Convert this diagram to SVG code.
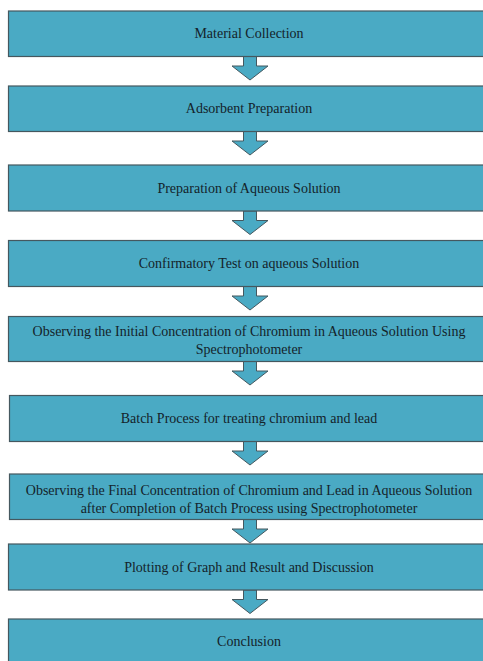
<svg xmlns="http://www.w3.org/2000/svg" width="483" height="661" viewBox="0 0 483 661">
<style>
.box{fill:#4aaac4;stroke:#45585f;stroke-width:1.2}
.arr{fill:#4aaac4;stroke:#45585f;stroke-width:1}
text{font-family:"Liberation Serif","Times New Roman",serif;font-size:14px;fill:#14232a;text-anchor:middle}
</style>
<defs>
<path id="arrow" d="M-6.5,0 L6.5,0 L6.5,9.5 L18,9.5 L0,23.5 L-18,9.5 L-6.5,9.5 Z"/>
</defs>
<rect width="483" height="661" fill="#ffffff"/>
<g id="connectors">
<use href="#arrow" class="arr" x="250" y="56.5"/>
<use href="#arrow" class="arr" x="250" y="131.5"/>
<use href="#arrow" class="arr" x="250" y="211"/>
<use href="#arrow" class="arr" x="250" y="286.5"/>
<use href="#arrow" class="arr" x="250" y="361.5"/>
<use href="#arrow" class="arr" x="250" y="441.5"/>
<use href="#arrow" class="arr" x="250" y="519.5"/>
<use href="#arrow" class="arr" x="250" y="590"/>
</g>
<g id="n1"><rect class="box" x="8.5" y="11" width="480" height="45.5"/><text x="249" y="38">Material Collection</text></g>
<g id="n2"><rect class="box" x="8.5" y="86" width="480" height="45.5"/><text x="249" y="112.5">Adsorbent Preparation</text></g>
<g id="n3"><rect class="box" x="8.5" y="165" width="480" height="46"/><text x="249" y="192.5">Preparation of Aqueous Solution</text></g>
<g id="n4"><rect class="box" x="8.5" y="240.5" width="480" height="46"/><text x="249" y="268">Confirmatory Test on aqueous Solution</text></g>
<g id="n5"><rect class="box" x="8.5" y="316.5" width="480" height="45"/><text x="249" y="335.5">Observing the Initial Concentration of Chromium in Aqueous Solution Using</text><text x="249" y="354">Spectrophotometer</text></g>
<g id="n6"><rect class="box" x="9.5" y="395.5" width="480" height="46"/><text x="249" y="422.5">Batch Process for treating chromium and lead</text></g>
<g id="n7"><rect class="box" x="9.5" y="474" width="480" height="45.5"/><text x="249" y="495">Observing the Final Concentration of Chromium and Lead in Aqueous Solution</text><text x="249" y="512.5">after Completion of Batch Process using Spectrophotometer</text></g>
<g id="n8"><rect class="box" x="8.5" y="544" width="480" height="46"/><text x="249" y="571.5">Plotting of Graph and Result and Discussion</text></g>
<g id="n9"><rect class="box" x="8.5" y="619" width="480" height="50"/><text x="249" y="646">Conclusion</text></g>
</svg>
